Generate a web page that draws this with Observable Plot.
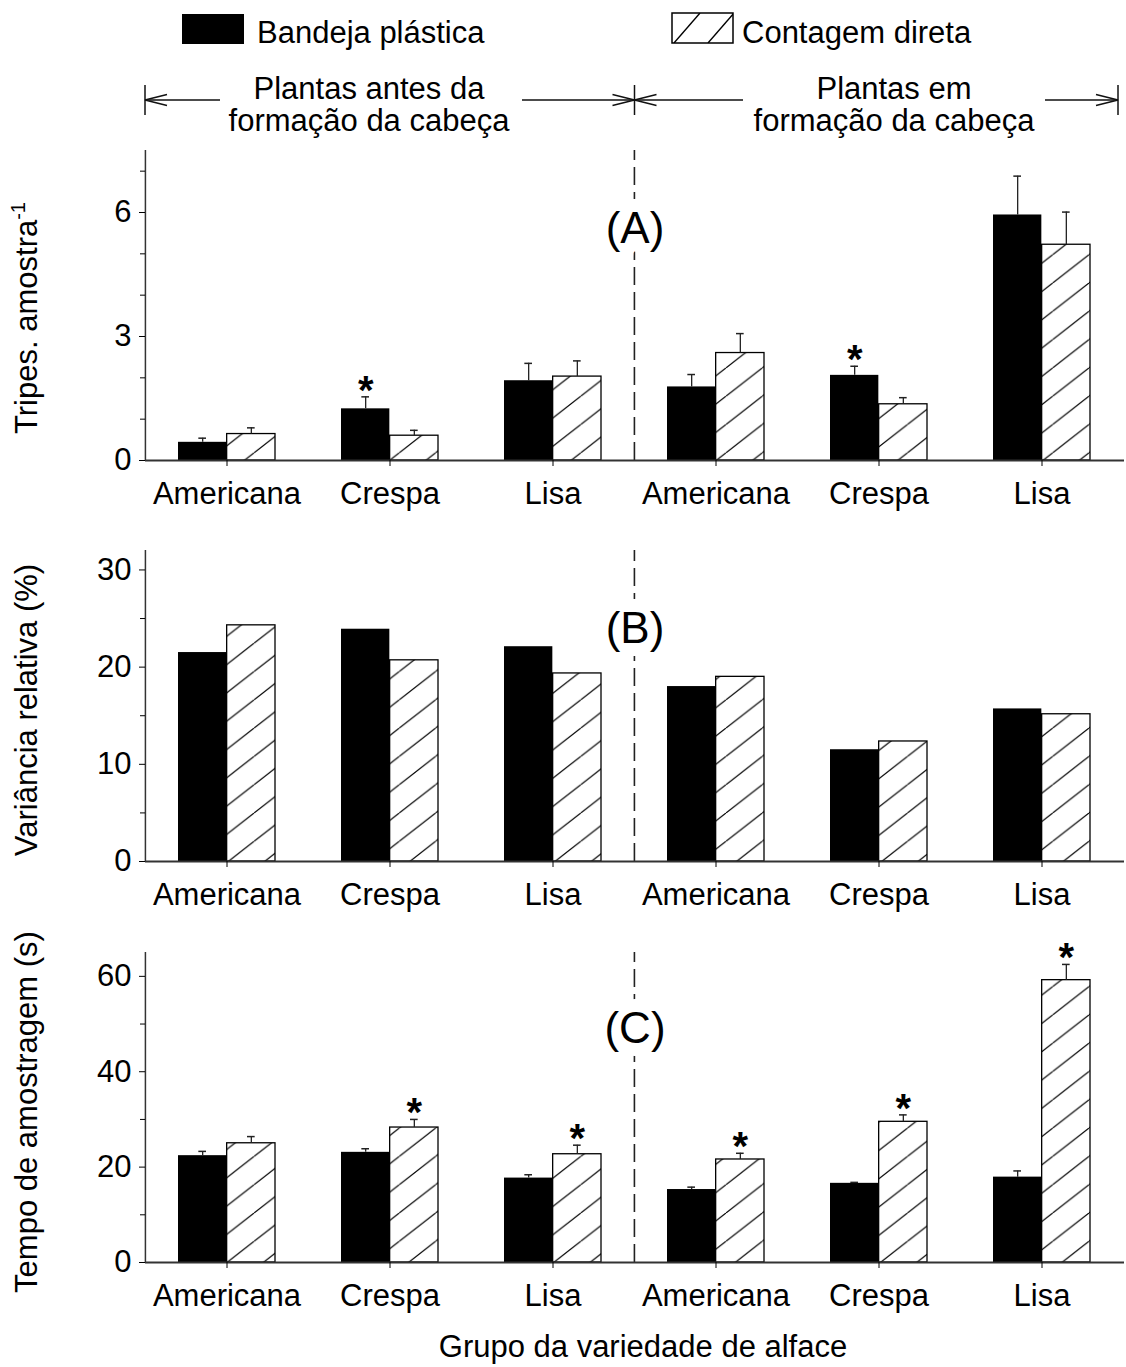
<!DOCTYPE html>
<html>
<head>
<meta charset="utf-8">
<script src="https://cdn.jsdelivr.net/npm/d3@7"></script>
<script src="https://cdn.jsdelivr.net/npm/@observablehq/plot@0.6"></script>
<style>
  html, body { margin: 0; padding: 0; background: #fff; overflow: hidden; }
  #root { width: 1126px; height: 1367px; }
  #root svg { display: block; background: none; overflow: visible; }
</style>
</head>
<body>
<div id="root"></div>
<script>
// ---------- data ----------
const seriesNames = ["Bandeja plástica", "Contagem direta"];
const periodLabels = ["Plantas antes da|formação da cabeça", "Plantas em|formação da cabeça"];
const groupKeys = ["antes|Americana", "antes|Crespa", "antes|Lisa", "em|Americana", "em|Crespa", "em|Lisa"];

// (A) Tripes por amostra
const tripesBandeja      = [0.44, 1.25, 1.93, 1.78, 2.06, 5.94];
const tripesBandejaErr   = [0.10, 0.29, 0.42, 0.30, 0.22, 0.94];
const tripesBandejaSig   = [0, 1, 0, 0, 1, 0];
const tripesContagem     = [0.64, 0.60, 2.03, 2.60, 1.36, 5.22];
const tripesContagemErr  = [0.15, 0.13, 0.38, 0.47, 0.16, 0.79];
const tripesContagemSig  = [0, 0, 0, 0, 0, 0];

// (B) Variância relativa (%)
const varBandeja   = [21.5, 23.9, 22.1, 18.0, 11.5, 15.7];
const varContagem  = [24.3, 20.7, 19.35, 19.0, 12.35, 15.15];

// (C) Tempo de amostragem (s)
const tempoBandeja     = [22.4, 23.1, 17.7, 15.3, 16.6, 17.9];
const tempoBandejaErr  = [0.9, 0.75, 0.7, 0.5, 0.2, 1.3];
const tempoBandejaSig  = [0, 0, 0, 0, 0, 0];
const tempoContagem    = [25.0, 28.3, 22.7, 21.6, 29.5, 59.2];
const tempoContagemErr = [1.4, 1.7, 1.9, 1.3, 1.45, 3.3];
const tempoContagemSig = [0, 1, 1, 1, 1, 1];

const yTitles = ["Tripes. amostra", "Variância relativa (%)", "Tempo de amostragem (s)"];
const xTitle = "Grupo da variedade de alface";
const panelTags = ["(A)", "(B)", "(C)"];

// ---------- layout ----------
const FONT = "'Liberation Sans', Arial, Helvetica, sans-serif";
const W = 1126, ML = 145, MR = 2;
const PI = 0.4035, PO = PI / 2;
const step = (W - ML - MR) / 6;
const bw = step * (1 - PI);

function makeRows(vals, errs, sigs, s) {
  return groupKeys.map((key, i) => ({
    key, s, series: seriesNames[s],
    value: vals[i], err: errs ? errs[i] : 0, sig: sigs ? !!sigs[i] : false
  }));
}

function panel(cfg, idx) {
  const pid = "hatch" + idx;
  const s0 = makeRows(cfg.b, cfg.be, cfg.bs, 0);
  const s1 = makeRows(cfg.c, cfg.ce, cfg.cs, 1);
  const off = bw / 4;
  const marks = [
    Plot.ruleX([groupKeys[3]], {x: d => d, y1: cfg.domain[0], y2: cfg.domain[1], dx: -step / 2,
      stroke: "#222", strokeWidth: 1.6, strokeDasharray: "18,7"}),
    Plot.text([panelTags[idx]], {text: d => d, frameAnchor: "top", lineAnchor: "middle", dy: cfg.tagDy, fontSize: 44,
      fill: "black", stroke: "white", strokeWidth: 26}),
    Plot.barY(s0, {x: "key", y: "value", fill: "black", insetLeft: 0, insetRight: bw / 2}),
    Plot.barY(s1, {x: "key", y: "value", fill: `url(#${pid})`, stroke: "black", strokeWidth: 1.3,
      insetLeft: bw / 2, insetRight: 0})
  ];
  if (cfg.be) {
    const sets = [[s0, -off, bw / 4 - 4, 3 * bw / 4 - 4], [s1, off, 3 * bw / 4 - 4, bw / 4 - 4]];
    for (const [arr, dx, il, ir] of sets) {
      marks.push(Plot.ruleX(arr, {x: "key", y1: "value", y2: d => d.value + d.err, dx,
        stroke: "#222", strokeWidth: 1.3}));
      marks.push(Plot.tickY(arr, {x: "key", y: d => d.value + d.err, insetLeft: il, insetRight: ir,
        stroke: "#222", strokeWidth: 1.5}));
      marks.push(Plot.text(arr.filter(d => d.sig), {x: "key", y: d => d.value + d.err, text: () => "*",
        dx, dy: -6, fontSize: 40, fontWeight: "bold", fill: "black"}));
    }
  }
  marks.push(
    Plot.ruleX([groupKeys[0]], {x: d => d, y1: cfg.domain[0], y2: cfg.domain[1], dx: -step / 2,
      stroke: "#333", strokeWidth: 1.5}),
    Plot.ruleY([0], {stroke: "#333", strokeWidth: 2}),
    Plot.axisX({tickSize: 6, tickPadding: 15, tickFormat: k => k.split("|")[1], label: null}),
    Plot.axisY({ticks: cfg.major, tickSize: 6, tickPadding: 8, label: null, tickFormat: d => String(d)}),
    Plot.axisY({ticks: cfg.minor, tickSize: 5, tickFormat: () => "", label: null})
  );

  const chart = Plot.plot({
    width: W, height: cfg.height,
    marginTop: cfg.mt, marginBottom: cfg.mb, marginLeft: ML, marginRight: MR,
    x: {type: "band", domain: groupKeys, paddingInner: PI, paddingOuter: PO, align: 0.5},
    y: {domain: cfg.domain},
    style: {fontSize: "31px", fontFamily: FONT, background: "none", overflow: "visible"},
    marks
  });

  const svg = d3.select(chart);
  const defs = svg.insert("defs", ":first-child");
  const pw = 36.3, ph = 28.3;
  defs.append("pattern").attr("id", pid).attr("patternUnits", "userSpaceOnUse")
    .attr("width", pw).attr("height", ph)
    .append("path")
      .attr("d", `M0,${ph} L${pw},0 M${-pw},${ph} L0,0 M${pw},${ph} L${2 * pw},0`)
      .attr("stroke", "black").attr("stroke-width", 1.2).attr("fill", "none");

  // y title
  const t = svg.append("text")
    .attr("transform", `translate(37,${cfg.yTitleY}) rotate(-90)`)
    .attr("text-anchor", "middle").attr("font-size", 31).attr("font-family", FONT).attr("fill", "black")
    .text(yTitles[idx]);
  if (idx === 0) t.append("tspan").attr("dy", -12).attr("font-size", 20).text("-1");

  return {chart, svg, defs};
}

const configs = [
  {b: tripesBandeja, be: tripesBandejaErr, bs: tripesBandejaSig,
   c: tripesContagem, ce: tripesContagemErr, cs: tripesContagemSig,
   domain: [0, 7.5], major: [0, 3, 6], minor: [1, 2, 4, 5, 7],
   height: 530, mt: 150, mb: 70, tagDy: 78, yTitleY: 318},
  {b: varBandeja, c: varContagem,
   domain: [0, 32], major: [0, 10, 20, 30], minor: [5, 15, 25],
   height: 400, mt: 20, mb: 69, tagDy: 78, yTitleY: 180},
  {b: tempoBandeja, be: tempoBandejaErr, bs: tempoBandejaSig,
   c: tempoContagem, ce: tempoContagemErr, cs: tempoContagemSig,
   domain: [0, 65], major: [0, 20, 40, 60], minor: [10, 30, 50],
   height: 437, mt: 22, mb: 105, tagDy: 76, yTitleY: 182}
];

const root = document.getElementById("root");
const panels = configs.map((cfg, i) => {
  const p = panel(cfg, i);
  root.appendChild(p.chart);
  return p;
});

// ---------- legend and period brackets (panel A top margin) ----------
{
  const svg = panels[0].svg;
  const defs = panels[0].defs;
  defs.append("pattern").attr("id", "hatchLegend").attr("patternUnits", "userSpaceOnUse")
    .attr("x", 672).attr("y", 13).attr("width", 34).attr("height", 30)
    .append("path").attr("d", "M2,30 L28,0").attr("stroke", "black").attr("stroke-width", 1.4).attr("fill", "none");

  const lg = svg.append("g").attr("font-family", FONT).attr("font-size", 31).attr("fill", "black")
    .attr("text-anchor", "start");
  lg.append("rect").attr("x", 182).attr("y", 14).attr("width", 62).attr("height", 30).attr("fill", "black");
  lg.append("text").attr("x", 257).attr("y", 43).attr("text-anchor", "start").text(seriesNames[0]);
  lg.append("rect").attr("x", 672).attr("y", 13).attr("width", 61).attr("height", 30)
    .attr("fill", "url(#hatchLegend)").attr("stroke", "black").attr("stroke-width", 1.5);
  lg.append("text").attr("x", 742).attr("y", 43).attr("text-anchor", "start").text(seriesNames[1]);

  const yB = 100, xL = ML, xM = ML + (W - ML - MR) / 2, xR = 1118;
  const g = svg.append("g").attr("stroke", "#111").attr("stroke-width", 1.5).attr("fill", "none");
  const segs = [[xL, 220], [522, xM], [xM, 743], [1045, xR]];
  for (const [a, b] of segs) g.append("line").attr("x1", a).attr("x2", b).attr("y1", yB).attr("y2", yB);
  for (const x of [xL, xM, xR]) g.append("line").attr("x1", x).attr("x2", x).attr("y1", 85).attr("y2", 115);
  const head = (x, dir) => `M${x - dir * 22},${yB - 5.5} L${x},${yB} L${x - dir * 22},${yB + 5.5}`;
  g.append("path").attr("d", head(xL, -1));
  g.append("path").attr("d", head(xM, 1));
  g.append("path").attr("d", head(xM, -1));
  g.append("path").attr("d", head(xR, 1));

  const tg = svg.append("g").attr("font-family", FONT).attr("font-size", 31).attr("fill", "black")
    .attr("text-anchor", "middle");
  const centers = [369, 894];
  periodLabels.forEach((lab, i) => {
    const [l1, l2] = lab.split("|");
    tg.append("text").attr("x", centers[i]).attr("y", 99).text(l1);
    tg.append("text").attr("x", centers[i]).attr("y", 131).text(l2);
  });
}

// x title at bottom of panel C
panels[2].svg.append("text").attr("x", 643).attr("y", 427).attr("text-anchor", "middle")
  .attr("font-size", 31).attr("font-family", FONT).attr("fill", "black").text(xTitle);
</script>
</body>
</html>
